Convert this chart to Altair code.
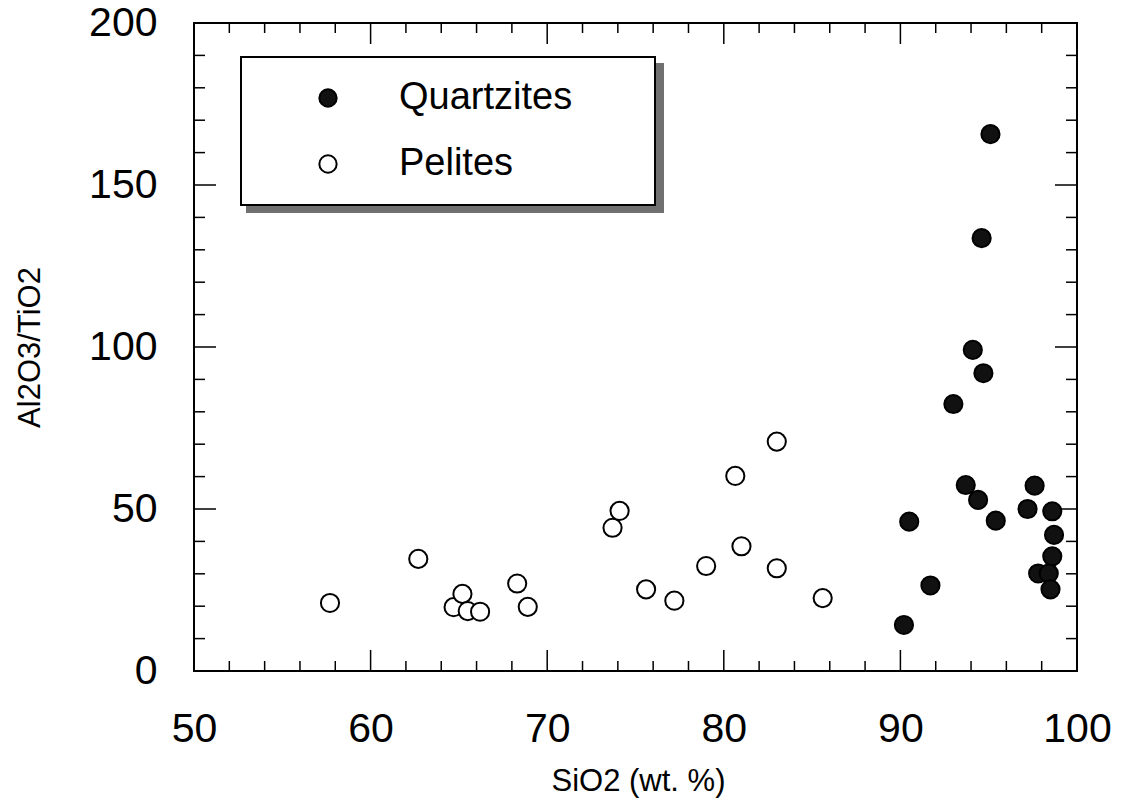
import altair as alt
import pandas as pd

# ---- data ----
quartz_sio2 = [90.2, 90.5, 91.7, 93.0, 93.7, 94.4, 95.4, 97.2, 97.6, 98.6, 98.7, 98.6, 97.8, 98.4, 98.5, 95.1, 94.6, 94.1, 94.7]
quartz_ratio = [14.2, 46.1, 26.4, 82.4, 57.4, 52.8, 46.4, 50.0, 57.2, 49.3, 42.0, 35.4, 30.1, 30.1, 25.2, 165.7, 133.6, 99.1, 91.9]

pelite_sio2 = [57.7, 62.7, 64.7, 65.2, 65.5, 66.2, 68.3, 68.9, 73.7, 74.1, 75.6, 77.2, 79.0, 80.65, 81.0, 83.0, 83.0, 85.6]
pelite_ratio = [21.0, 34.6, 19.7, 23.8, 18.5, 18.3, 27.0, 19.8, 44.2, 49.4, 25.2, 21.7, 32.4, 60.2, 38.5, 70.8, 31.7, 22.5]

x_tick_labels = [50, 60, 70, 80, 90, 100]
y_tick_labels = [0, 50, 100, 150, 200]
x_major_ticks = [60, 70, 80, 90]
x_minor_ticks = [52, 54, 56, 58, 62, 64, 66, 68, 72, 74, 76, 78, 82, 84, 86, 88, 92, 94, 96, 98]
y_major_ticks = [50, 100, 150]
y_minor_ticks = [10, 20, 30, 40, 60, 70, 80, 90, 110, 120, 130, 140, 160, 170, 180, 190]

groups = ["Quartzites", "Pelites"]

W, H = 883, 648
FONT = "Liberation Sans"

df = pd.DataFrame({
    "SiO2": quartz_sio2 + pelite_sio2,
    "ratio": quartz_ratio + pelite_ratio,
    "Rock": ["Quartzites"] * len(quartz_sio2) + ["Pelites"] * len(pelite_sio2),
})

xscale = alt.Scale(domain=[50, 100], nice=False, zero=False)
yscale = alt.Scale(domain=[0, 200], nice=False, zero=False)

xaxis = alt.Axis(
    values=x_tick_labels, title="SiO2  (wt. %)", grid=False, domain=False,
    ticks=False, tickSize=0, labelPadding=38, labelFontSize=41, labelFont=FONT,
    labelColor="black", titleFont=FONT, titleFontSize=31, titleFontWeight="normal",
    titleColor="black", titleX=444, titleY=110, titleBaseline="middle",
    titleAlign="center", labelFlush=False, labelOverlap=False)
yaxis = alt.Axis(
    values=y_tick_labels, title="Al2O3/TiO2", grid=False, domain=False,
    ticks=False, tickSize=0, labelPadding=37, labelFontSize=41, labelFont=FONT,
    labelColor="black", titleFont=FONT, titleFontSize=31, titleFontWeight="normal",
    titleColor="black", titleX=-164, titleY=324, titleAngle=-90,
    titleBaseline="middle", titleAlign="center", labelFlush=False, labelOverlap=False)

points = alt.Chart(df).mark_point(
    filled=True, shape="circle", size=330, stroke="black", strokeWidth=2, opacity=1
).encode(
    x=alt.X("SiO2:Q", scale=xscale, axis=xaxis),
    y=alt.Y("ratio:Q", scale=yscale, axis=yaxis),
    fill=alt.Fill("Rock:N", scale=alt.Scale(domain=groups, range=["#111111", "white"]),
                  legend=alt.Legend(title=None, orient="none", legendX=115, legendY=56,
                                    symbolType="circle", symbolSize=300,
                                    symbolStrokeColor="black", symbolStrokeWidth=2,
                                    labelFont=FONT, labelFontSize=38, labelColor="black",
                                    labelOffset=52, rowPadding=28, padding=0,
                                    labelLimit=500, symbolOpacity=1)),
)

one = pd.DataFrame({"a": [0]})
shadow = alt.Chart(one).mark_rect(color="#707070").encode(
    x=alt.value(52), x2=alt.value(470), y=alt.value(40), y2=alt.value(190))
box = alt.Chart(one).mark_rect(fill="white", stroke="black", strokeWidth=2).encode(
    x=alt.value(47), x2=alt.value(461), y=alt.value(34), y2=alt.value(182))


def xticks(vals, y0, y1):
    return alt.Chart(pd.DataFrame({"t": vals})).mark_rule(color="black", strokeWidth=1.5).encode(
        x=alt.X("t:Q", scale=xscale, axis=xaxis), y=alt.value(y0), y2=alt.value(y1))


def yticks(vals, x0, x1):
    return alt.Chart(pd.DataFrame({"t": vals})).mark_rule(color="black", strokeWidth=1.5).encode(
        y=alt.Y("t:Q", scale=yscale, axis=yaxis), x=alt.value(x0), x2=alt.value(x1))


ticks = [
    xticks(x_minor_ticks, H, H - 10), xticks(x_major_ticks, H, H - 21),
    xticks(x_minor_ticks, 0, 10), xticks(x_major_ticks, 0, 21),
    yticks(y_minor_ticks, 0, 11), yticks(y_major_ticks, 0, 22),
    yticks(y_minor_ticks, W, W - 11), yticks(y_major_ticks, W, W - 22),
]

chart = alt.layer(shadow, box, *ticks, points).properties(
    width=W, height=H, autosize="none",
    padding={"left": 194, "top": 23, "right": 51, "bottom": 130},
    background="white",
).configure_view(stroke="black", strokeWidth=2)

chart.save("out.html", embed_options={"renderer": "svg", "actions": False})
